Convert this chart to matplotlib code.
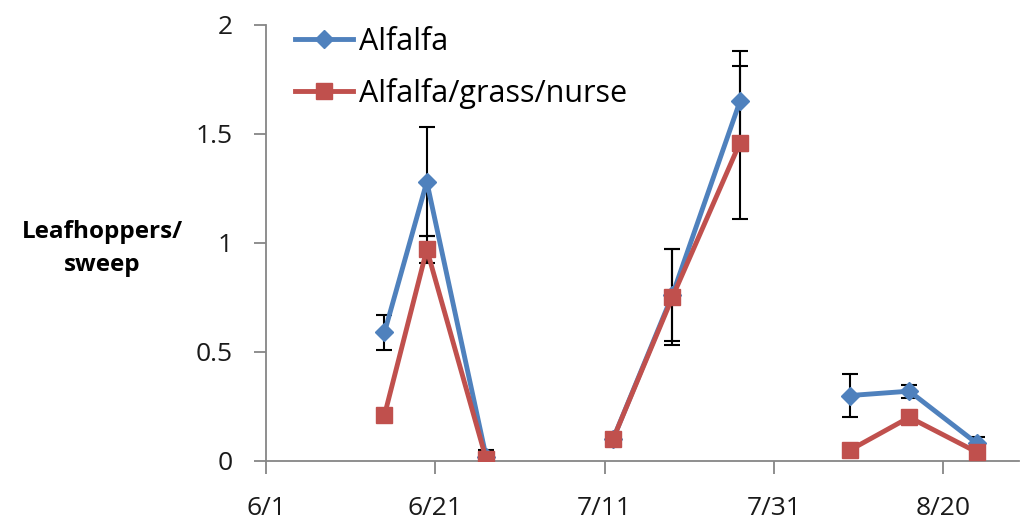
import numpy as np
import matplotlib.pyplot as plt

# days after 6/1; NaN breaks the line between sampling periods
days = [14, 19, 26, np.nan, 41, 48, 56, np.nan, 69, 76, 84]
alfalfa = [0.59, 1.28, 0.02, np.nan, 0.10, 0.76, 1.65, np.nan, 0.30, 0.32, 0.08]
alfalfa_err = [0.08, 0.25, 0.03, np.nan, 0.03, 0.21, 0.23, np.nan, 0.10, 0.03, 0.03]
mixed = [0.21, 0.97, 0.01, np.nan, 0.10, 0.75, 1.46, np.nan, 0.05, 0.20, 0.04]
mixed_err = [0.02, 0.06, 0.01, np.nan, 0.02, 0.22, 0.35, np.nan, 0.02, 0.02, 0.02]

tick_days = [0, 20, 40, 60, 80]
tick_labels = ['6/1', '6/21', '7/11', '7/31', '8/20']

blue = '#4F81BD'
red = '#C0504D'
grey = '#868686'

plt.rcParams['font.family'] = ['Open Sans', 'DejaVu Sans']

fig = plt.figure(figsize=(10.25, 5.28), dpi=100)
ax = fig.add_axes([0.2595, 0.127, 0.735, 0.826])

x = np.array(days)
ax.errorbar(x, alfalfa, yerr=alfalfa_err, fmt='none', ecolor='black',
            elinewidth=1.5, capsize=5.5, capthick=1.5, zorder=2)
ax.errorbar(x, mixed, yerr=mixed_err, fmt='none', ecolor='black',
            elinewidth=1.5, capsize=5.5, capthick=1.5, zorder=2)
ax.plot(x, alfalfa, color=blue, lw=3.5, marker='D', ms=9.5,
        label='Alfalfa', zorder=3)
ax.plot(x, mixed, color=red, lw=3.5, marker='s', ms=12,
        label='Alfalfa/grass/nurse', zorder=4)

ax.set_xlim(0, 89)
ax.set_ylim(0, 2)
ax.set_yticks([0, 0.5, 1, 1.5, 2])
ax.set_yticklabels(['0', '0.5', '1', '1.5', '2'])
ax.set_xticks(tick_days)
ax.set_xticklabels(tick_labels)

for s in ['top', 'right']:
    ax.spines[s].set_visible(False)
for s in ['left', 'bottom']:
    ax.spines[s].set_color(grey)
    ax.spines[s].set_linewidth(1.3)
ax.tick_params(axis='both', colors=grey, length=9, width=1.3,
               labelsize=19, labelcolor='#1a1a1a')
ax.tick_params(axis='x', direction='out', pad=16)
ax.tick_params(axis='y', pad=15)

ax.legend(loc='upper left', bbox_to_anchor=(0.01, 1.045), frameon=False,
          fontsize=22, handlelength=1.9, handletextpad=0.2,
          labelspacing=0.7, borderaxespad=0.3)

fig.text(0.1, 0.53, 'Leafhoppers/\nsweep', ha='center', va='center',
         fontsize=17.5, fontweight='bold', linespacing=1.5)

fig.savefig('out.png', dpi=100)
